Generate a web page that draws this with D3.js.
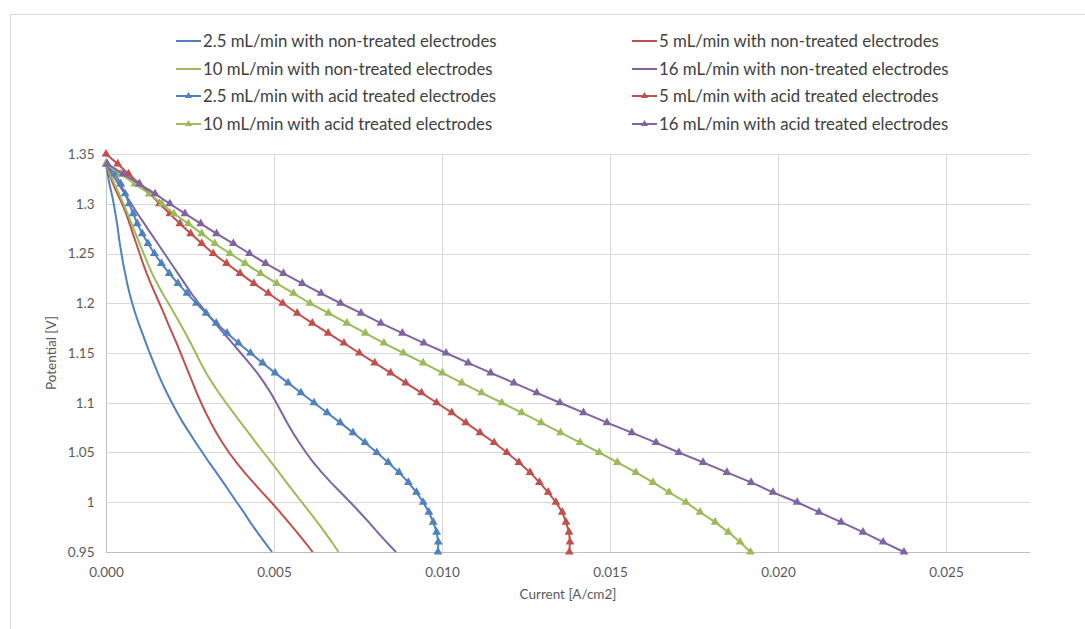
<!DOCTYPE html>
<html>
<head>
<meta charset="utf-8">
<script src="https://cdn.jsdelivr.net/npm/d3@7"></script>
<style>
  html, body { margin: 0; padding: 0; background: #fff; }
  svg { display: block; }
  text { font-family: Lato, "Open Sans", sans-serif; }
</style>
</head>
<body>
<svg id="chart" width="1085" height="629"></svg>
<script>
// Polarization curves: potential [V] vs current density [A/cm2]

const potentialTicks = [0.95, 1.0, 1.05, 1.1, 1.15, 1.2, 1.25, 1.3, 1.35];
const potentialTickLabels = ["0.95", "1", "1.05", "1.1", "1.15", "1.2", "1.25", "1.3", "1.35"];
const currentTicks = [0, 0.005, 0.010, 0.015, 0.020, 0.025];
const currentTickLabels = ["0.000", "0.005", "0.010", "0.015", "0.020", "0.025"];

// potential steps of the sweeps
const potentialFrom134 = [1.34, 1.33, 1.32, 1.31, 1.30, 1.29, 1.28, 1.27, 1.26, 1.25,
  1.24, 1.23, 1.22, 1.21, 1.20, 1.19, 1.18, 1.17, 1.16, 1.15,
  1.14, 1.13, 1.12, 1.11, 1.10, 1.09, 1.08, 1.07, 1.06, 1.05,
  1.04, 1.03, 1.02, 1.01, 1.00, 0.99, 0.98, 0.97, 0.96, 0.95];
const potentialFrom135 = [1.35, 1.34, 1.33, 1.32, 1.31, 1.30, 1.29, 1.28, 1.27, 1.26, 1.25,
  1.24, 1.23, 1.22, 1.21, 1.20, 1.19, 1.18, 1.17, 1.16, 1.15,
  1.14, 1.13, 1.12, 1.11, 1.10, 1.09, 1.08, 1.07, 1.06, 1.05,
  1.04, 1.03, 1.02, 1.01, 1.00, 0.99, 0.98, 0.97, 0.96, 0.95];

// current density, non-treated electrodes
const current2_5NonTreated = [0, 0.00005, 0.00010, 0.00017, 0.00023, 0.00028, 0.00033, 0.00037, 0.00041, 0.00046,
  0.00051, 0.00057, 0.00063, 0.00070, 0.00078, 0.00087, 0.00097, 0.00108, 0.00119, 0.00130,
  0.00142, 0.00154, 0.00167, 0.00181, 0.00196, 0.00212, 0.00229, 0.00248, 0.00267, 0.00287,
  0.00307, 0.00328, 0.00349, 0.00369, 0.00389, 0.00410, 0.00429, 0.00450, 0.00472, 0.00494];
const current5NonTreated = [0, 0.00010, 0.00021, 0.00034, 0.00048, 0.00060, 0.00070, 0.00080, 0.00090, 0.00100,
  0.00110, 0.00121, 0.00133, 0.00146, 0.00159, 0.00172, 0.00184, 0.00197, 0.00210, 0.00222,
  0.00234, 0.00246, 0.00258, 0.00270, 0.00283, 0.00297, 0.00312, 0.00328, 0.00346, 0.00366,
  0.00388, 0.00412, 0.00438, 0.00465, 0.00492, 0.00518, 0.00543, 0.00568, 0.00592, 0.00615];
const current10NonTreated = [0, 0.00012, 0.00025, 0.00039, 0.00052, 0.00064, 0.00076, 0.00088, 0.00100, 0.00112,
  0.00124, 0.00137, 0.00152, 0.00168, 0.00186, 0.00203, 0.00220, 0.00236, 0.00252, 0.00267,
  0.00282, 0.00298, 0.00316, 0.00336, 0.00357, 0.00379, 0.00401, 0.00424, 0.00446, 0.00469,
  0.00492, 0.00515, 0.00537, 0.00560, 0.00583, 0.00606, 0.00629, 0.00651, 0.00672, 0.00692];
const current16NonTreated = [0, 0.00018, 0.00037, 0.00056, 0.00075, 0.00094, 0.00114, 0.00134, 0.00154, 0.00174,
  0.00194, 0.00214, 0.00234, 0.00254, 0.00276, 0.00300, 0.00325, 0.00350, 0.00376, 0.00401,
  0.00426, 0.00450, 0.00471, 0.00490, 0.00507, 0.00523, 0.00539, 0.00556, 0.00575, 0.00595,
  0.00617, 0.00642, 0.00669, 0.00698, 0.00727, 0.00755, 0.00782, 0.00808, 0.00835, 0.00863];

// current density, acid treated electrodes
const current2_5Acid = [0, 0.00027, 0.00044, 0.00057, 0.00069, 0.00081, 0.00093, 0.00108, 0.00125, 0.00144,
  0.00165, 0.00188, 0.00214, 0.00241, 0.00269, 0.00298, 0.00328, 0.00360, 0.00394, 0.00430,
  0.00466, 0.00503, 0.00542, 0.00580, 0.00619, 0.00658, 0.00697, 0.00735, 0.00771, 0.00806,
  0.00840, 0.00872, 0.00900, 0.00924, 0.00944, 0.00961, 0.00974, 0.00984, 0.00989, 0.00988];
const current5Acid = [0, 0.00035, 0.00067, 0.00100, 0.00131, 0.00159, 0.00190, 0.00220, 0.00252, 0.00285, 0.00319,
  0.00359, 0.00399, 0.00440, 0.00483, 0.00526, 0.00569, 0.00614, 0.00661, 0.00708, 0.00754,
  0.00800, 0.00847, 0.00892, 0.00939, 0.00984, 0.01029, 0.01071, 0.01113, 0.01155, 0.01193,
  0.01229, 0.01262, 0.01290, 0.01316, 0.01339, 0.01358, 0.01369, 0.01378, 0.01381, 0.01379];
const current10Acid = [0, 0.00043, 0.00086, 0.00129, 0.00166, 0.00202, 0.00245, 0.00285, 0.00324, 0.00369,
  0.00414, 0.00460, 0.00508, 0.00558, 0.00607, 0.00662, 0.00717, 0.00772, 0.00827, 0.00885,
  0.00944, 0.01001, 0.01059, 0.01118, 0.01178, 0.01237, 0.01295, 0.01353, 0.01411, 0.01468,
  0.01522, 0.01577, 0.01628, 0.01676, 0.01726, 0.01768, 0.01813, 0.01852, 0.01887, 0.01918];
const current16Acid = [0.00004, 0.00051, 0.00099, 0.00146, 0.00190, 0.00235, 0.00282, 0.00329, 0.00379, 0.00427,
  0.00475, 0.00528, 0.00584, 0.00640, 0.00698, 0.00759, 0.00818, 0.00882, 0.00946, 0.01012,
  0.01078, 0.01145, 0.01214, 0.01282, 0.01351, 0.01421, 0.01491, 0.01565, 0.01637, 0.01705,
  0.01777, 0.01848, 0.01920, 0.01985, 0.02057, 0.02122, 0.02188, 0.02253, 0.02313, 0.02375];

const seriesNames = [
  "2.5 mL/min with non-treated electrodes", "5 mL/min with non-treated electrodes",
  "10 mL/min with non-treated electrodes", "16 mL/min with non-treated electrodes",
  "2.5 mL/min with acid treated electrodes", "5 mL/min with acid treated electrodes",
  "10 mL/min with acid treated electrodes", "16 mL/min with acid treated electrodes"
];
const seriesCurrents = [current2_5NonTreated, current5NonTreated, current10NonTreated, current16NonTreated,
  current2_5Acid, current5Acid, current10Acid, current16Acid];
const seriesPotentials = [potentialFrom134, potentialFrom134, potentialFrom134, potentialFrom134,
  potentialFrom134, potentialFrom135, potentialFrom134, potentialFrom134];
const seriesMarked = [false, false, false, false, true, true, true, true];

const palette = ["#4F81BD", "#C0504D", "#9BBB59", "#8064A2"];

const series = seriesNames.map((name, i) => ({
  name,
  color: palette[i % 4],
  marked: seriesMarked[i],
  points: seriesCurrents[i].map((c, j) => ({ x: c, y: seriesPotentials[i][j] }))
}));

const svg = d3.select("#chart");
const W = 1085, H = 629;
const plot = { left: 106, right: 1030, top: 154, bottom: 552 };

// chart frame
svg.append("rect")
  .attr("x", 10.5).attr("y", 14.5)
  .attr("width", W).attr("height", H)
  .attr("fill", "#fff").attr("stroke", "#d9d9d9");

const x = d3.scaleLinear().domain([0, 0.0275]).range([plot.left, plot.right]);
const y = d3.scaleLinear().domain([0.95, 1.35]).range([plot.bottom, plot.top]);

// gridlines
const grid = svg.append("g").attr("stroke", "#d9d9d9").attr("stroke-width", 1);
grid.selectAll("line.h").data(potentialTicks.filter(v => v > 0.95)).join("line")
  .attr("class", "h")
  .attr("x1", plot.left).attr("x2", plot.right)
  .attr("y1", d => Math.round(y(d)) + 0.5).attr("y2", d => Math.round(y(d)) + 0.5);
grid.selectAll("line.v").data(currentTicks.filter(v => v > 0)).join("line")
  .attr("class", "v")
  .attr("y1", plot.top).attr("y2", plot.bottom)
  .attr("x1", d => Math.round(x(d)) + 0.5).attr("x2", d => Math.round(x(d)) + 0.5);

// axes
const xAxis = d3.axisBottom(x).tickValues(currentTicks)
  .tickFormat((d, i) => currentTickLabels[i]).tickSize(0).tickPadding(15);
const yAxis = d3.axisLeft(y).tickValues(potentialTicks)
  .tickFormat((d, i) => potentialTickLabels[i]).tickSize(0).tickPadding(12);

const gx = svg.append("g").attr("transform", `translate(0,${plot.bottom + 0.5})`).call(xAxis);
const gy = svg.append("g").attr("transform", `translate(${plot.left + 0.5},0)`).call(yAxis);
[gx, gy].forEach(g => {
  g.select(".domain").attr("stroke", "#bfbfbf");
  g.selectAll("text").attr("fill", "#595959").attr("font-size", 13.5)
    .style("font-family", "Lato, 'Open Sans', sans-serif");
});
gy.select(".domain").attr("d", `M0,${plot.top}V${plot.bottom}`);
gx.select(".domain").attr("d", `M${plot.left},0H${plot.right}`);

// axis titles
svg.append("text")
  .attr("x", (plot.left + plot.right) / 2).attr("y", 599)
  .attr("text-anchor", "middle").attr("fill", "#595959").attr("font-size", 13.5)
  .text("Current [A/cm2]");
svg.append("text")
  .attr("transform", `translate(56,${(plot.top + plot.bottom) / 2}) rotate(-90)`)
  .attr("text-anchor", "middle").attr("fill", "#595959").attr("font-size", 13.5)
  .text("Potential [V]");

// curves
const line = d3.line().x(d => x(d.x)).y(d => y(d.y));
const marker = d3.symbol().type(d3.symbolTriangle).size(34);

const curves = svg.append("g");
series.forEach(s => {
  const g = curves.append("g");
  g.append("path").datum(s.points)
    .attr("d", line)
    .attr("fill", "none").attr("stroke", s.color)
    .attr("stroke-width", 2).attr("stroke-linejoin", "round");
  if (s.marked) {
    g.selectAll("path.m").data(s.points).join("path")
      .attr("class", "m")
      .attr("d", marker)
      .attr("transform", d => `translate(${x(d.x)},${y(d.y)})`)
      .attr("fill", s.color);
  }
});

// legend, two columns filled row by row
const legendCols = [176, 632];
const legendRows = [41, 69, 96, 124];
const legend = svg.append("g");
series.forEach((s, i) => {
  const lx = legendCols[i % 2];
  const ly = legendRows[Math.floor(i / 2)];
  const item = legend.append("g").attr("transform", `translate(${lx},${ly})`);
  item.append("line").attr("x1", 0).attr("x2", 25).attr("y1", 0).attr("y2", 0)
    .attr("stroke", s.color).attr("stroke-width", 2);
  if (s.marked) {
    item.append("path").attr("d", d3.symbol().type(d3.symbolTriangle).size(22))
      .attr("transform", "translate(12.5,0)").attr("fill", s.color);
  }
  item.append("text").attr("x", 27).attr("y", 0).attr("dy", "0.35em")
    .attr("fill", "#404040").attr("font-size", 16.8)
    .text(s.name);
});
</script>
</body>
</html>
